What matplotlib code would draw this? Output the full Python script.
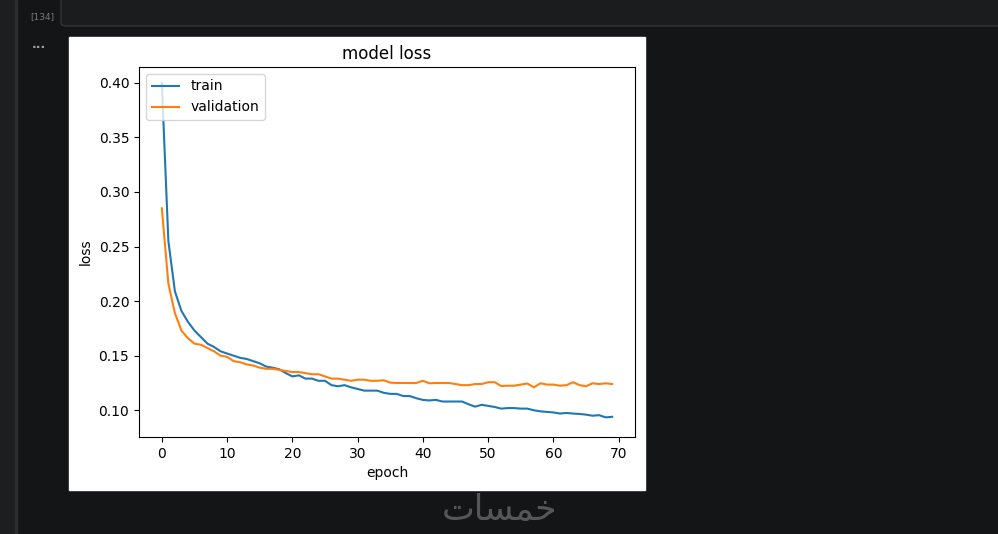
import matplotlib
matplotlib.use("Agg")
import matplotlib.pyplot as plt
from matplotlib.patches import Rectangle, FancyBboxPatch

# loss history
epochs = list(range(70))
train_loss = [0.400, 0.255, 0.209, 0.191, 0.181, 0.173, 0.167, 0.161, 0.158, 0.154,
              0.152, 0.150, 0.148, 0.147, 0.145, 0.143, 0.140, 0.139, 0.1375, 0.134,
              0.131, 0.132, 0.129, 0.129, 0.127, 0.127, 0.123, 0.122, 0.123, 0.121,
              0.1195, 0.118, 0.118, 0.118, 0.116, 0.115, 0.115, 0.113, 0.113, 0.111,
              0.1095, 0.109, 0.1095, 0.108, 0.108, 0.108, 0.108, 0.1055, 0.1033, 0.105,
              0.104, 0.103, 0.1015, 0.102, 0.102, 0.1015, 0.1015, 0.100, 0.099, 0.0985,
              0.098, 0.097, 0.0975, 0.097, 0.0966, 0.096, 0.095, 0.0955, 0.0935, 0.094]
val_loss = [0.285, 0.216, 0.189, 0.173, 0.166, 0.161, 0.160, 0.157, 0.154, 0.150,
            0.149, 0.145, 0.144, 0.142, 0.141, 0.139, 0.138, 0.138, 0.137, 0.136,
            0.135, 0.135, 0.134, 0.133, 0.133, 0.131, 0.129, 0.129, 0.128, 0.127,
            0.128, 0.128, 0.127, 0.127, 0.1275, 0.1253, 0.125, 0.125, 0.125, 0.125,
            0.127, 0.1247, 0.125, 0.125, 0.125, 0.124, 0.123, 0.123, 0.124, 0.124,
            0.1257, 0.1257, 0.1222, 0.1225, 0.1225, 0.1235, 0.1245, 0.121, 0.1247, 0.1235,
            0.1235, 0.1225, 0.123, 0.1257, 0.123, 0.122, 0.1247, 0.124, 0.1247, 0.124]

W, H = 998, 534
fig = plt.figure(figsize=(W / 100, H / 100), dpi=100, facecolor='#141517')

def px(x0, y0, x1, y1):
    # pixel box (top-left origin) -> figure fraction rect
    return (x0 / W, 1 - y1 / H, (x1 - x0) / W, (y1 - y0) / H)

def box(x0, y0, x1, y1, color):
    l, b, w, h = px(x0, y0, x1, y1)
    fig.patches.append(Rectangle((l, b), w, h, transform=fig.transFigure,
                                 color=color, zorder=-5))

# notebook chrome
box(0, 0, 15, H, '#1d1e20')
box(15, 0, 16.5, H, '#2c2d30')
l, b, w, h = px(61, -20, 1010, 26)
fig.patches.append(FancyBboxPatch((l, b), w, h, boxstyle='round,pad=0,rounding_size=0.006',
                                  transform=fig.transFigure, facecolor='#1b1c1e',
                                  edgecolor='#323336', lw=1, zorder=-5))
fig.text(42.5 / W, 1 - 17 / H, '[134]', color='#7a7b7e', fontsize=6.5, ha='center', va='center')
fig.text(38.5 / W, 1 - 44 / H, '...', color='#a0a1a4', fontsize=9, ha='center', va='center',
         weight='bold')

# white output image
box(69, 37, 645, 490, 'white')

ax = fig.add_axes(px(139, 67, 635, 437))
ax.set_zorder(2)
ax.plot(epochs, train_loss, color='#1f77b4', lw=1.5, label='train')
ax.plot(epochs, val_loss, color='#ff7f0e', lw=1.5, label='validation')
ax.set_xlim(-3.5, 72.5)
ax.set_ylim(0.0755, 0.4145)
ax.set_xticks(range(0, 71, 10))
ax.set_yticks([0.10, 0.15, 0.20, 0.25, 0.30, 0.35, 0.40])
ax.tick_params(labelsize=10)
ax.set_title('model loss', fontsize=12)
ax.set_xlabel('epoch', fontsize=10)
ax.set_ylabel('loss', fontsize=10)
ax.legend(loc='upper left', fontsize=10)

# site watermark
fig.text(499 / W, 1 - 510 / H, '\ufe95\ufe8e\ufeb4\ufee4\ufea7', color='#56575a',
         fontsize=25, ha='center', va='center', family=['DejaVu Sans'])

fig.savefig('out.png', dpi=100, facecolor=fig.get_facecolor())
